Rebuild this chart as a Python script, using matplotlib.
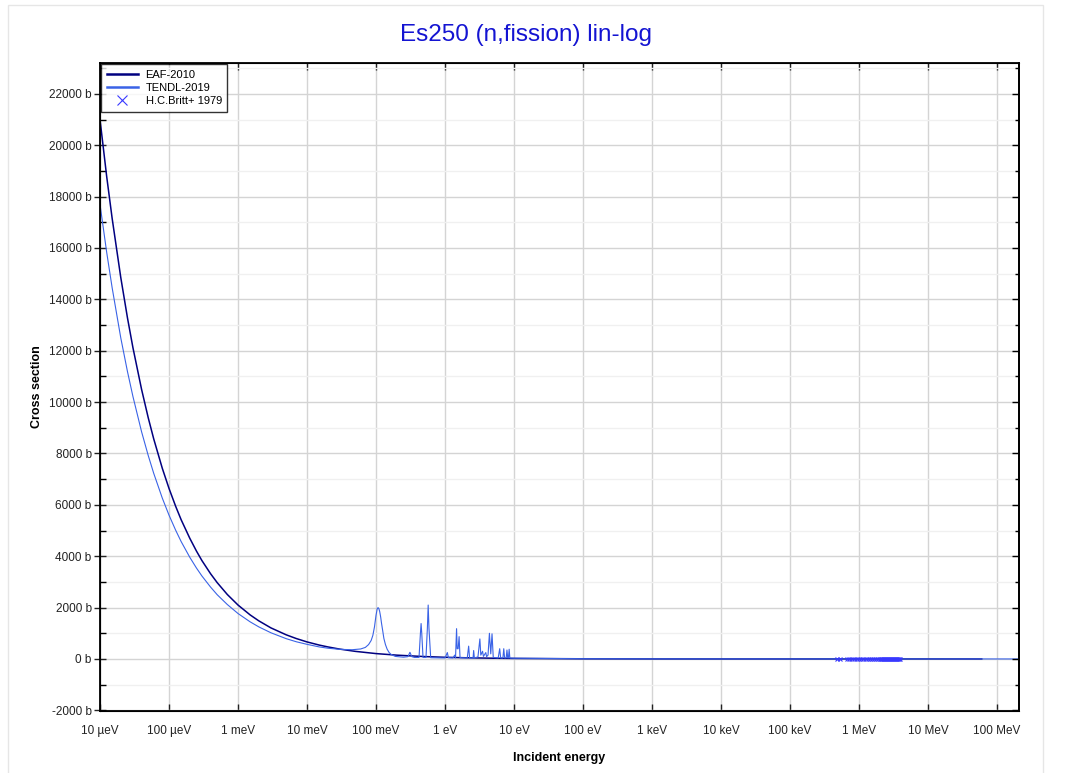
import matplotlib
matplotlib.use("Agg")
import matplotlib.pyplot as plt
from matplotlib.ticker import FixedLocator, FuncFormatter, MultipleLocator, NullLocator
from matplotlib.patches import Rectangle

plt.rcParams['font.family'] = ['Liberation Sans', 'DejaVu Sans']

# datos (energia en eV, seccion eficaz en barn)
eaf_E = [1e-5, 1.25e-5, 1.5e-5, 2e-5, 2.5e-5, 3e-5, 4e-5, 5e-5, 6e-5, 8e-5,
         1e-4, 1.25e-4, 1.5e-4, 2e-4, 2.5e-4, 3e-4, 4e-4, 5e-4, 7e-4,
         1e-3, 1.5e-3, 2e-3, 3e-3, 5e-3, 7e-3, 1e-2, 1.5e-2, 2e-2, 3e-2, 5e-2,
         0.1, 0.2, 0.5, 1, 2, 5, 10, 100, 1e3, 1e4, 1e5, 1e6, 1e7, 6e7]
eaf_S = [21000, 18780, 17150, 14850, 13280, 12120, 10500, 9390, 8570, 7420,
         6640, 5940, 5420, 4700, 4200, 3830, 3320, 2970, 2510,
         2100, 1715, 1485, 1210, 940, 795, 664, 542, 470, 383, 297,
         210, 149, 94, 66, 47, 30, 21, 7, 2.5, 1.5, 1.5, 2.5, 2.5, 1.5]

tendl_E = [1e-5, 1.25e-5, 1.5e-5, 2e-5, 2.5e-5, 3e-5, 4e-5, 5e-5, 6e-5, 8e-5,
           1e-4, 1.25e-4, 1.5e-4, 2e-4, 2.5e-4, 3e-4, 4e-4, 5e-4, 7e-4,
           1e-3, 1.5e-3, 2e-3, 3e-3, 5e-3, 7e-3, 1e-2, 1.5e-2, 2e-2, 3e-2,
           4.5e-2, 6e-2, 7e-2, 7.8e-2, 0.085, 0.09, 0.095, 0.1, 0.104, 0.107, 0.11,
           0.113, 0.117, 0.12, 0.125, 0.13, 0.137, 0.145, 0.155,
           0.165, 0.19, 0.25, 0.29, 0.31, 0.33, 0.36, 0.42, 0.44, 0.45, 0.46, 0.48,
           0.53, 0.555, 0.57, 0.585, 0.62, 0.9, 1.0, 1.08, 1.12, 1.3, 1.38, 1.42,
           1.47, 1.5, 1.55, 1.6, 1.65, 2.1, 2.2, 2.27, 2.55, 2.6, 2.66, 3.0, 3.2,
           3.3, 3.5, 3.6, 3.9, 4.0, 4.2, 4.4, 4.6, 4.8, 5.0, 5.9, 6.2, 6.4, 6.9,
           7.1, 7.3, 7.7, 7.9, 8.1, 8.3, 8.5, 8.7, 10, 100, 1e3, 1e4, 1e5, 1e6,
           1e7, 2e8]
tendl_S = [17700, 15830, 14450, 12500, 11190, 10220, 8850, 7920, 7230, 6260,
           5600, 5010, 4570, 3960, 3540, 3230, 2800, 2500, 2120,
           1770, 1445, 1250, 1020, 790, 670, 570, 470, 420, 375,
           360, 390, 450, 560, 720, 920, 1250, 1700, 1950, 2000, 1960,
           1850, 1620, 1400, 1100, 800, 560, 380, 250,
           180, 100, 70, 90, 260, 90, 60, 60, 1000, 1380, 1000, 60,
           60, 1200, 2100, 1200, 50, 40, 40, 250, 50, 40, 150, 40,
           1180, 400, 400, 870, 50, 40, 500, 40, 40, 330, 40, 80, 780,
           150, 300, 100, 250, 90, 150, 1000, 200, 980, 60, 40, 400, 40, 40,
           400, 40, 40, 350, 40, 40, 380, 35, 30, 10, 4, 2, 1.5, 2.5,
           2.5, 1.5]

britt_E = [0.485e6, 0.53e6, 0.66e6, 0.72e6, 0.78e6, 0.85e6, 0.93e6, 1.0e6, 1.08e6,
           1.16e6, 1.25e6, 1.34e6, 1.44e6, 1.54e6, 1.65e6, 1.76e6, 1.89e6, 2.0e6,
           2.08e6, 2.15e6, 2.23e6, 2.3e6, 2.38e6, 2.46e6, 2.55e6, 2.63e6, 2.72e6,
           2.8e6, 2.9e6, 3.0e6, 3.1e6, 3.2e6, 3.3e6, 3.43e6, 3.55e6, 3.67e6, 3.8e6,
           3.92e6]
britt_S = [2.3, 2.4, 2.6, 2.6, 2.7, 2.7, 2.8, 2.8, 2.8, 2.8, 2.9, 2.9, 2.9, 2.9,
           2.9, 2.9, 2.9, 2.9, 2.9, 2.9, 2.9, 2.9, 2.9, 2.9, 2.9, 2.9, 2.9, 2.9,
           2.9, 2.9, 2.9, 2.9, 2.9, 2.9, 2.9, 2.9, 2.9, 2.9]

x_ticks = [1e-5, 1e-4, 1e-3, 1e-2, 1e-1, 1, 10, 100, 1e3, 1e4, 1e5, 1e6, 1e7, 1e8]
x_labels = ['10 µeV', '100 µeV', '1 meV', '10 meV', '100 meV', '1 eV', '10 eV',
            '100 eV', '1 keV', '10 keV', '100 keV', '1 MeV', '10 MeV', '100 MeV']

fig = plt.figure(figsize=(10.67, 7.73), dpi=100)
# marco exterior gris claro
fig.patches.append(Rectangle((8 / 1067, -0.01), 1035 / 1067, 1 - 5 / 773 + 0.01,
                             transform=fig.transFigure, fill=False,
                             edgecolor='#e6e6e6', lw=1))

ax = fig.add_axes([100 / 1067, 62 / 773, 919 / 1067, 648 / 773])
ax.set_xscale('log')
ax.set_xlim(1e-5, 2.08e8)
ax.set_ylim(-2025, 23200)

ax.plot(eaf_E, eaf_S, color='#000080', lw=1.1, label='EAF-2010', zorder=3)
ax.plot(tendl_E, tendl_S, color='#3a63e6', lw=0.8, label='TENDL-2019', zorder=4)
ax.plot(britt_E, britt_S, ls='none', marker='x', ms=3.5, mew=0.8,
        color='#3838ff', label='H.C.Britt+ 1979', zorder=5)

# rejilla
ax.xaxis.set_major_locator(FixedLocator(x_ticks))
ax.xaxis.set_minor_locator(NullLocator())
ax.xaxis.set_major_formatter(FuncFormatter(lambda v, p: x_labels[x_ticks.index(v)] if v in x_ticks else ''))
ax.yaxis.set_major_locator(MultipleLocator(2000))
ax.yaxis.set_minor_locator(MultipleLocator(1000))
ax.yaxis.set_major_formatter(FuncFormatter(lambda v, p: f'{int(v)} b'))
ax.grid(which='major', color='#d4d4d4', lw=1)
ax.grid(which='minor', axis='y', color='#f0f0f0', lw=1)
ax.set_axisbelow(True)

ax.tick_params(axis='y', which='major', direction='inout', length=8, width=1,
               labelsize=8.5, pad=2, colors='#222222')
ax.tick_params(axis='y', which='minor', direction='in', length=4, width=1)
ax.tick_params(axis='x', which='major', direction='in', length=5, width=1,
               top=True, labelsize=8.5, pad=10, colors='#222222')
for s in ax.spines.values():
    s.set_color('black')
    s.set_linewidth(1.3)

# ticks derecha hacia adentro
ax2 = ax.twinx()
ax2.set_ylim(ax.get_ylim())
ax2.yaxis.set_major_locator(MultipleLocator(2000))
ax2.yaxis.set_minor_locator(MultipleLocator(1000))
ax2.tick_params(axis='y', which='major', direction='in', length=5, width=1, labelright=False)
ax2.tick_params(axis='y', which='minor', direction='in', length=3, width=1)
ax2.spines['right'].set_linewidth(1.3)

ax.set_xlabel('Incident energy', fontsize=9, fontweight='bold', labelpad=11)
ax.set_ylabel('Cross section', fontsize=9, fontweight='bold', labelpad=4)
fig.text(526 / 1067, 1 - 35 / 773, 'Es250 (n,fission) lin-log', ha='center', va='center',
         fontsize=17.5, color='#1414d2')

leg = ax.legend(loc='upper left', fontsize=8, frameon=True, fancybox=False,
                edgecolor='black', borderaxespad=0.1, handlelength=2.8,
                labelspacing=0.3, borderpad=0.5, handletextpad=0.7)
leg.get_frame().set_linewidth(1)
leg.set_zorder(10)
for h in leg.legend_handles[:2]:
    h.set_linewidth(1.8)
leg.legend_handles[2].set_markersize(7)

fig.savefig('out.png', dpi=100)
